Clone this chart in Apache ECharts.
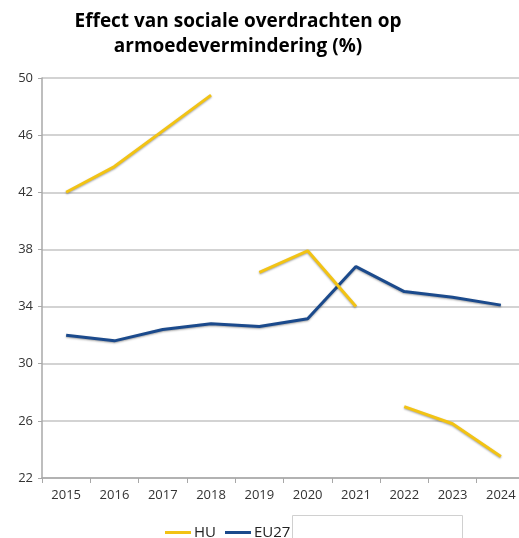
<!DOCTYPE html>
<html>
<head>
<meta charset="utf-8">
<script src="https://cdn.jsdelivr.net/npm/echarts@6/dist/echarts.min.js"></script>
<style>html,body{margin:0;padding:0;background:#fff;overflow:hidden;}#c{width:532px;height:538px;}</style>
</head>
<body>
<div id="c"></div>
<script>
var years = ['2015','2016','2017','2018','2019','2020','2021','2022','2023','2024'];
var hu = [42.0, 43.8, 46.3, 48.8, 36.4, 37.9, 34.0, 27.0, 25.8, 23.5];
var huSegments = [[0,3],[4,6],[7,9]];
var eu27 = [32.0, 31.6, 32.4, 32.8, 32.6, 33.15, 36.8, 35.05, 34.65, 34.1];
var titleLines = ['Effect van sociale overdrachten op', 'armoedevermindering (%)'];

var YELLOW = '#F2C314', BLUE = '#1B4A8C';
var lineShadow = {shadowColor:'rgba(0,0,0,0.35)', shadowBlur:2, shadowOffsetY:1};

var series = [{
  name:'EU27', type:'line', data:eu27, symbol:'none', color:BLUE,
  lineStyle:Object.assign({color:BLUE, width:3}, lineShadow)
}];
huSegments.forEach(function(seg){
  series.push({
    name:'HU', type:'line', symbol:'none', color:YELLOW,
    data: hu.map(function(v,i){ return (i>=seg[0] && i<=seg[1]) ? v : null; }),
    lineStyle:Object.assign({color:YELLOW, width:3}, lineShadow)
  });
});

var chart = echarts.init(document.getElementById('c'), null, {renderer:'canvas'});
chart.setOption({
  animation:false,
  backgroundColor:'#fff',
  graphic:[
    {type:'text', x:238, y:12, style:{text:titleLines[0], textAlign:'center', font:'bold 19px "Open Sans"', fill:'#000'}},
    {type:'text', x:238, y:37, style:{text:titleLines[1], textAlign:'center', font:'bold 19px "Open Sans"', fill:'#000'}},
    {type:'rect', shape:{x:292.5, y:515.5, width:170, height:30}, style:{fill:'#fff', stroke:'#d0d0d0', lineWidth:1}}
  ],
  grid:{left:42, top:78, width:483, height:400, containLabel:false},
  legend:{
    data:['HU','EU27'], left:160, top:520, icon:'rect', itemWidth:26, itemHeight:3, itemGap:9,
    textStyle:{fontFamily:'Open Sans', fontSize:15, color:'#222', padding:[0,0,0,-2]}
  },
  xAxis:{
    type:'category', data:years, boundaryGap:true,
    axisLine:{lineStyle:{color:'#a8a8a8', width:1.5}},
    axisTick:{show:true, length:5, lineStyle:{color:'#a8a8a8'}},
    axisLabel:{fontFamily:'Open Sans', fontSize:13, color:'#333', margin:11},
    splitLine:{show:false}
  },
  yAxis:{
    type:'value', min:22, max:50, interval:4,
    axisLine:{show:true, lineStyle:{color:'#a8a8a8', width:1.5}},
    axisTick:{show:true, length:4, lineStyle:{color:'#a8a8a8'}},
    axisLabel:{fontFamily:'Open Sans', fontSize:13, color:'#333', margin:9},
    splitLine:{lineStyle:{color:'#c4c4c4', width:1.5}}
  },
  series:series
});
</script>
</body>
</html>
